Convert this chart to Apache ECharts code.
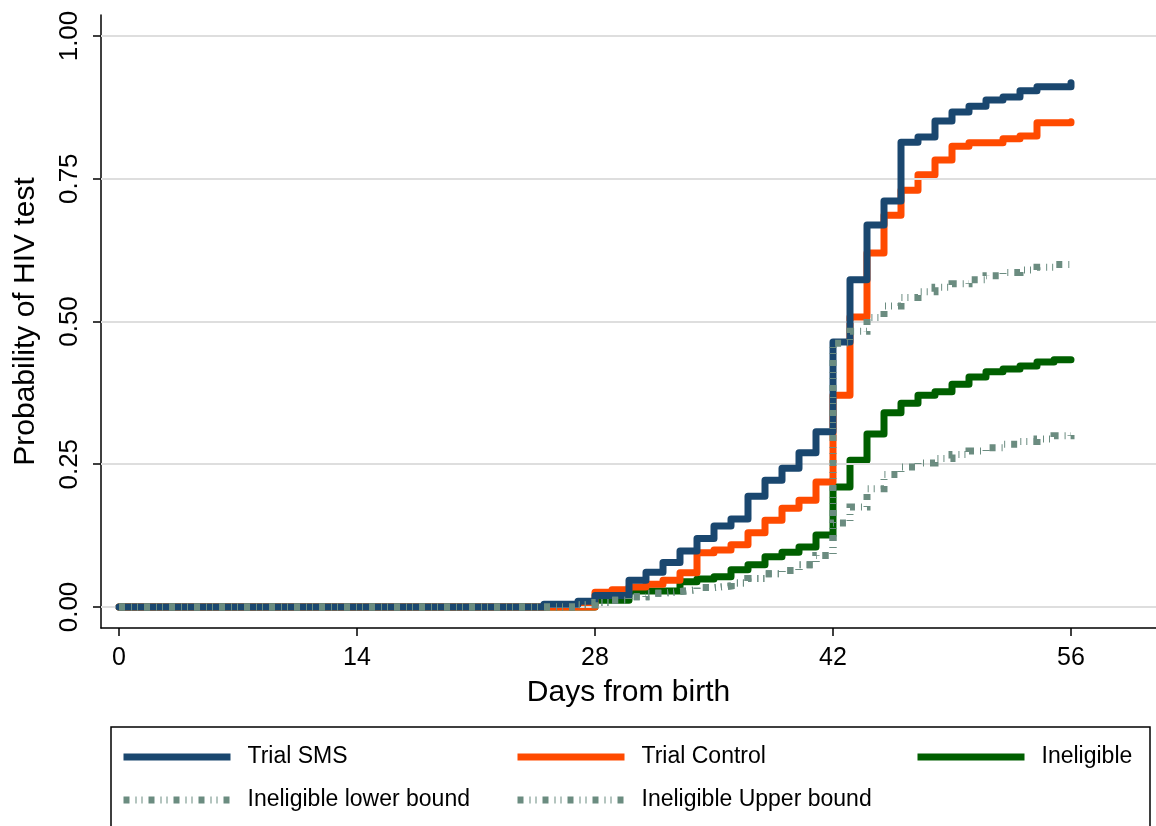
<!DOCTYPE html>
<html><head><meta charset="utf-8">
<script src="https://cdn.jsdelivr.net/npm/echarts@6/dist/echarts.min.js"></script>
<style>html,body{margin:0;padding:0;background:#fff}#c{width:1156px;height:826px}</style>
</head><body><div id="c"></div>
<script>
// ---- data ----
const xTicks = [0, 14, 28, 42, 56];
const yTicks = [0, 0.25, 0.5, 0.75, 1];

const smsDays = [0,25,27,28,30,31,32,33,34,35,36,37,38,39,40,41,42,43,44,45,46,47,48,49,50,51,52,53,54,56];
const smsVals = [0,0.005,0.010,0.020,0.047,0.061,0.078,0.098,0.120,0.142,0.154,0.194,0.222,0.243,0.270,0.307,0.464,0.573,0.669,0.711,0.814,0.823,0.851,0.867,0.877,0.888,0.893,0.904,0.911,0.918];

const ctrlDays = [0,28,29,30,31,32,33,34,35,36,37,38,39,40,41,42,43,44,45,46,47,48,49,50,52,53,54,56];
const ctrlVals = [0,0.026,0.030,0.035,0.040,0.047,0.060,0.095,0.100,0.109,0.130,0.152,0.173,0.187,0.219,0.371,0.508,0.620,0.686,0.730,0.757,0.783,0.807,0.813,0.820,0.825,0.848,0.850];

const ineDays = [0,28,30,33,34,35,36,37,38,39,40,41,42,43,44,45,46,47,48,49,50,51,52,53,54,55,56];
const ineVals = [0,0.012,0.028,0.044,0.049,0.053,0.065,0.074,0.088,0.096,0.105,0.126,0.210,0.257,0.303,0.340,0.357,0.371,0.377,0.390,0.403,0.412,0.417,0.422,0.429,0.433,0.433];

const boundPreDays = [0,27,28,29,30,31,32,33,34,35,36,37,38,39,40,41];
const boundPreVals = [0,0.004,0.008,0.012,0.018,0.024,0.027,0.030,0.034,0.037,0.042,0.050,0.058,0.064,0.074,0.090];
const boundPostDays = [42,43,44,45,46,47,48,49,50,51,52,53,54,55,56];
const lowerPostVals = [0.147,0.175,0.207,0.232,0.245,0.252,0.260,0.267,0.273,0.279,0.285,0.290,0.294,0.300,0.303];
const upperPostVals = [0.462,0.483,0.507,0.527,0.542,0.552,0.560,0.566,0.573,0.580,0.586,0.590,0.595,0.600,0.603];

const names = ['Trial SMS','Trial Control','Ineligible','Ineligible lower bound','Ineligible Upper bound'];
// ---------------------------------------

const pair = (xs, ys) => xs.map((d, i) => [d, ys[i]]);
const lowerData = pair(boundPreDays.concat(boundPostDays), boundPreVals.concat(lowerPostVals));
const upperData = pair(boundPreDays.concat(boundPostDays), boundPreVals.concat(upperPostVals));

const C_SMS = '#1a476f', C_CTRL = '#ff4a00', C_INE = '#005f00', C_GRAY = '#6b8c80';
const FONT = '"Liberation Sans", Arial, Helvetica, sans-serif';
const DASH = [6, 6, 1, 5, 1, 6];

function solid(name, data, color, z) {
  return { name, type: 'line', step: 'end', data, symbol: 'none', z,
    lineStyle: { color, width: 7, cap: 'round', join: 'round' }, itemStyle: { color } };
}
function dashed(name, data, z) {
  return { name, type: 'line', step: 'end', data, symbol: 'none', z,
    lineStyle: { color: C_GRAY, width: 7, type: DASH, cap: 'butt', join: 'miter' },
    itemStyle: { color: C_GRAY } };
}
function leg(name, left, top) {
  return { data: [name], left, top, padding: 0, itemWidth: 107, itemHeight: 7,
    selectedMode: false,
    itemStyle: { color: 'rgba(0,0,0,0)', borderWidth: 0 },
    lineStyle: { width: 7, cap: 'butt' },
    textStyle: { fontFamily: FONT, fontSize: 23, color: '#000', padding: [0, 0, 0, 12], lineHeight: 28 } };
}

const chart = echarts.init(document.getElementById('c'), null, { renderer: 'canvas' });
chart.setOption({
  animation: false,
  backgroundColor: '#fff',
  grid: { left: 101, right: 0, top: 15, bottom: 198, containLabel: false },
  xAxis: {
    type: 'value', min: -1.059, max: 61,
    name: 'Days from birth', nameLocation: 'middle', nameGap: 50,
    nameTextStyle: { fontFamily: FONT, fontSize: 30, color: '#000' },
    axisLine: { show: true, onZero: false, lineStyle: { color: '#000', width: 1.5 } },
    axisTick: { show: true, length: 8, customValues: xTicks, lineStyle: { color: '#000', width: 1.5 } },
    axisLabel: { customValues: xTicks, fontFamily: FONT, fontSize: 25, color: '#000', margin: 18 },
    splitLine: { show: false }
  },
  yAxis: {
    type: 'value', min: -0.0368, max: 1.0368,
    name: 'Probability of HIV test', nameLocation: 'middle', nameGap: 60, nameRotate: 90,
    nameTextStyle: { fontFamily: FONT, fontSize: 30, color: '#000' },
    axisLine: { show: true, onZero: false, lineStyle: { color: '#000', width: 1.5 } },
    axisTick: { show: true, length: 8, customValues: yTicks, lineStyle: { color: '#000', width: 1.5 } },
    axisLabel: { customValues: yTicks, rotate: 90, fontFamily: FONT, fontSize: 26, color: '#000', margin: 18,
      formatter: v => v.toFixed(2) },
    splitLine: { show: false }
  },
  legend: [
    leg(names[0], 120, 743), leg(names[1], 514, 743), leg(names[2], 914, 743),
    leg(names[3], 120, 786), leg(names[4], 514, 786)
  ],
  graphic: [{ type: 'rect', shape: { x: 111, y: 727, width: 1039, height: 110 },
    style: { fill: 'none', stroke: '#000', lineWidth: 1.5 }, z: 0 }],
  series: [
    { name: '_grid', type: 'line', data: [], z: 1, silent: true,
      markLine: { silent: true, symbol: ['none', 'none'], label: { show: false }, animation: false,
        lineStyle: { color: '#dedede', width: 2, type: 'solid' },
        data: yTicks.map(v => ({ yAxis: v })) } },
    solid(names[2], pair(ineDays, ineVals), C_INE, 3),
    solid(names[1], pair(ctrlDays, ctrlVals), C_CTRL, 4),
    solid(names[0], pair(smsDays, smsVals), C_SMS, 5),
    dashed(names[3], lowerData, 6),
    dashed(names[4], upperData, 7)
  ]
});
</script></body></html>
